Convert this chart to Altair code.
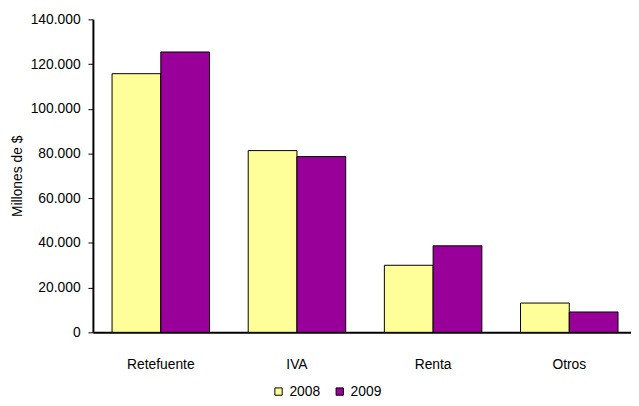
import altair as alt
import pandas as pd

categories = ["Retefuente", "IVA", "Renta", "Otros"]
years = ["2008", "2009"]
v2008 = [115700, 81300, 30000, 13100]
v2009 = [125400, 78600, 38700, 9100]
colors = ["#FFFF99", "#990099"]
y_ticks = [0, 20000, 40000, 60000, 80000, 100000, 120000, 140000]

rows = []
for c, a, b in zip(categories, v2008, v2009):
    rows.append({"Categoria": c, "Year": "2008", "Valor": a})
    rows.append({"Categoria": c, "Year": "2009", "Valor": b})
df = pd.DataFrame(rows)

chart = alt.Chart(df).mark_bar(stroke="black", strokeWidth=1).encode(
    x=alt.X(
        "Categoria:N",
        sort=categories,
        scale=alt.Scale(paddingInner=0.284, paddingOuter=0.118, align=0.596),
        axis=alt.Axis(
            title=None, labelAngle=0, ticks=False, labelPadding=26,
            domainColor="black", domainWidth=2, labelFontSize=14,
            labelColor="black",
        ),
    ),
    xOffset=alt.XOffset("Year:N", sort=years, scale=alt.Scale(paddingInner=0, paddingOuter=0)),
    y=alt.Y(
        "Valor:Q",
        scale=alt.Scale(domain=[0, 140000], nice=False),
        axis=alt.Axis(
            values=y_ticks,
            labelExpr="replace(format(datum.value, ','), ',', '.')",
            title="Millones de $",
            grid=False,
            tickSize=5, tickColor="black", tickWidth=1,
            labelPadding=8, labelFontSize=14, labelColor="black",
            domainColor="black", domainWidth=2,
            titleFontSize=14, titleFontWeight="normal", titleColor="black",
            titlePadding=6,
        ),
    ),
    color=alt.Color(
        "Year:N",
        scale=alt.Scale(domain=years, range=colors),
        legend=alt.Legend(
            orient="none", legendX=181, legendY=370, direction="horizontal",
            title=None, symbolType="square", symbolSize=55,
            symbolStrokeColor="black", symbolStrokeWidth=1,
            labelFontSize=14, labelColor="black", columnPadding=12, labelOffset=4,
        ),
    ),
).properties(
    width=545,
    height=317,
    autosize=alt.AutoSizeParams(type="none"),
    padding={"left": 86, "top": 9, "right": 0, "bottom": 64},
).configure(font="Liberation Sans").configure_view(stroke=None)

chart.save("out.html", embed_options={"renderer": "svg", "actions": False})
